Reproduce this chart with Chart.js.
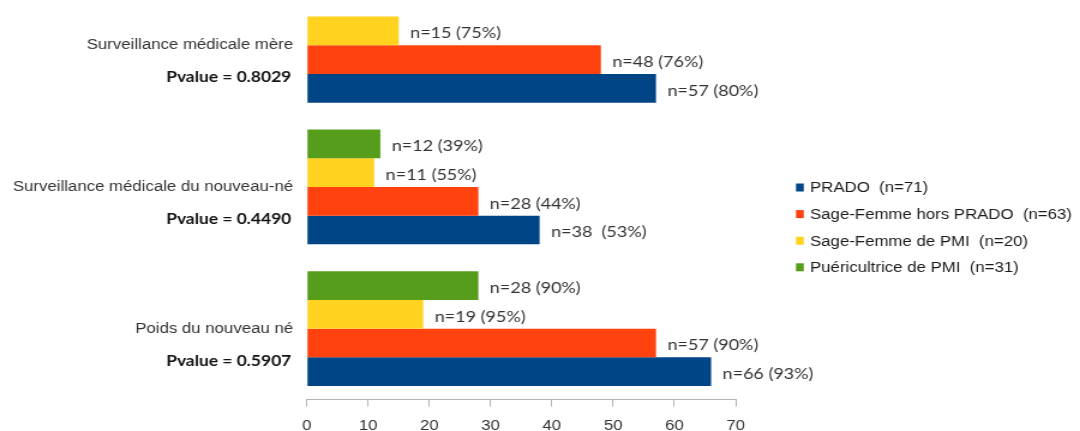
<!DOCTYPE html>
<html>
<head>
<meta charset="utf-8">
<script src="https://cdn.jsdelivr.net/npm/chart.js@4.4.1/dist/chart.umd.min.js"></script>
<style>
  html, body { margin: 0; padding: 0; background: #ffffff; overflow: hidden; width: 1080px; height: 431px; }
  #wrap { position: absolute; left: 0; top: -30px; width: 1080px; height: 461px; }
  #c { width: 1080px; height: 461px; display: block; }
</style>
</head>
<body>
<div id="wrap"><canvas id="c" width="900" height="461" style="width:1080px;height:461px;"></canvas></div>
<script>
// ---- data ----
const categories = ["Surveillance médicale mère", "Surveillance médicale du nouveau-né", "Poids du nouveau né"];
const pvalueLabels = ["Pvalue = 0.8029", "Pvalue = 0.4490", "Pvalue = 0.5907"];

const seriesNames = ["PRADO  (n=71)", "Sage-Femme hors PRADO  (n=63)", "Sage-Femme de PMI  (n=20)", "Puéricultrice de PMI  (n=31)"];
const seriesColors = ["#004586", "#ff420e", "#ffd320", "#579d1c"];

const pradoValues = [57, 38, 66];
const pradoLabels = ["n=57 (80%)", "n=38  (53%)", "n=66 (93%)"];
const sfHorsValues = [48, 28, 57];
const sfHorsLabels = ["n=48 (76%)", "n=28 (44%)", "n=57 (90%)"];
const sfPmiValues = [15, 11, 19];
const sfPmiLabels = ["n=15 (75%)", "n=11 (55%)", "n=19 (95%)"];
const puerValues = [null, 12, 28];
const puerLabels = [null, "n=12 (39%)", "n=28 (90%)"];

const xMin = 0, xMax = 70, xStep = 10;

// ---- chart ----
Chart.defaults.font.family = "'Liberation Sans', Arial, sans-serif";
Chart.defaults.font.size = 14;
Chart.defaults.color = "#333333";

const seriesValues = [pradoValues, sfHorsValues, sfPmiValues, puerValues];
const seriesLabels = [pradoLabels, sfHorsLabels, sfPmiLabels, puerLabels];

// order top->bottom within a group: Puéricultrice, SF PMI, SF hors, PRADO
const order = [3, 2, 1, 0];
const datasets = order.map(i => ({
  label: seriesNames[i],
  data: seriesValues[i],
  valueLabels: seriesLabels[i],
  backgroundColor: seriesColors[i],
  borderWidth: 0,
  categoryPercentage: 0.81,
  barPercentage: 1.0
}));

const valueLabelPlugin = {
  id: 'valueLabels',
  afterDatasetsDraw(chart) {
    const ctx = chart.ctx;
    ctx.save();
    ctx.font = "15px Lato, 'Open Sans', sans-serif";
    ctx.fillStyle = "#333333";
    ctx.textAlign = "left";
    ctx.textBaseline = "middle";
    chart.data.datasets.forEach((ds, di) => {
      const meta = chart.getDatasetMeta(di);
      meta.data.forEach((el, i) => {
        const v = ds.data[i];
        const t = ds.valueLabels[i];
        if (v === null || v === undefined || !t) return;
        ctx.fillText(t, el.x + 9.5, el.y + 2.5);
      });
    });
    ctx.restore();
  }
};

const pvaluePlugin = {
  id: 'pvalues',
  afterDraw(chart) {
    const ctx = chart.ctx;
    const ys = chart.scales.y;
    ctx.save();
    ctx.font = "bold 14.5px Lato, 'Open Sans', sans-serif";
    ctx.fillStyle = "#111111";
    ctx.textAlign = "right";
    ctx.textBaseline = "middle";
    pvalueLabels.forEach((t, i) => {
      ctx.fillText(t, chart.chartArea.left - 13, ys.getPixelForValue(i) + 32.5);
    });
    ctx.restore();
  }
};

const legendPlugin = {
  id: 'sideLegend',
  afterDraw(chart) {
    const ctx = chart.ctx;
    ctx.save();
    ctx.font = "14px 'Liberation Sans', Arial, sans-serif";
    ctx.textAlign = "left";
    ctx.textBaseline = "middle";
    const ds = chart.data.datasets.slice().reverse();
    const x0 = 663.3, y0 = 217.5, rowH = 26.6;
    ds.forEach((d, k) => {
      const y = y0 + k * rowH;
      ctx.fillStyle = d.backgroundColor;
      ctx.fillRect(x0, y - 4, 6.5, 8);
      ctx.fillStyle = "#1a1a1a";
      ctx.fillText(d.label, x0 + 11.7, y + 1);
    });
    ctx.restore();
  }
};

new Chart(document.getElementById('c'), {
  type: 'bar',
  data: { labels: categories, datasets: datasets },
  options: {
    indexAxis: 'y',
    responsive: false,
    devicePixelRatio: 1,
    animation: false,
    layout: { padding: { top: 4.4, left: 0, right: 287, bottom: 0 } },
    plugins: { legend: { display: false }, tooltip: { enabled: false } },
    scales: {
      x: {
        min: xMin, max: xMax,
        ticks: { stepSize: xStep, padding: 11, color: "#333333", font: { size: 14 } },
        grid: { drawOnChartArea: false, drawTicks: true, tickLength: 7, color: "#b3b3b3" },
        border: { display: true, color: "#b3b3b3" },
        afterFit(scale) { scale.height = 31.5; }
      },
      y: {
        ticks: { padding: 11.5, color: "#333333", font: { size: 14 } },
        grid: { display: false, drawTicks: false },
        border: { display: false },
        afterFit(scale) { scale.width = 255.7; scale.paddingTop = 0; scale.paddingBottom = 0; }
      }
    }
  },
  plugins: [valueLabelPlugin, pvaluePlugin, legendPlugin]
});
</script>
</body>
</html>
